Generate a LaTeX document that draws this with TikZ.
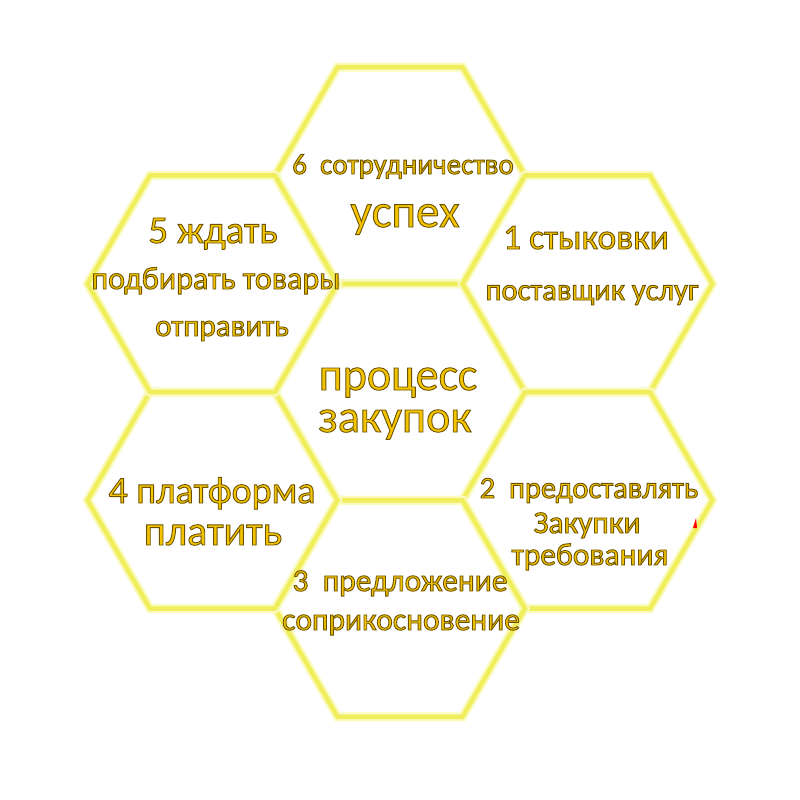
\documentclass[tikz,border=0pt]{standalone}
\usepackage{fontspec}
\setmainfont{Carlito}
\usepackage{tikz}
\usetikzlibrary{shapes.geometric}
\definecolor{hexline}{RGB}{240,238,90}
\definecolor{hexglow}{RGB}{250,250,190}
\definecolor{gold}{RGB}{244,196,0}
% golden letters with a thin dark rim
\newcommand{\gtxt}[1]{\special{pdf:literal direct 2 Tr 0.9 w 0.42 0.32 0 RG}#1\special{pdf:literal direct 0 Tr}}

\begin{document}
\begin{tikzpicture}[x=1pt,y=-1pt,
    hexcell/.style={
      regular polygon,
      regular polygon sides=6,
      minimum size=250pt,
      inner sep=0pt,
      draw=hexline,
      line width=4.5pt,
      preaction={draw=hexglow,line width=9pt}
    },
    txt/.style={
      font=\fontsize{#1}{#1}\selectfont,
      text=gold,
      anchor=base,
      inner sep=0pt
    }
  ]
  \useasboundingbox (0,0) rectangle (800,800);
  % honeycomb
  \node[hexcell] (center) at (400,392) {};
  \node[hexcell] (h6) at (400,175.5) {};
  \node[hexcell] (h1) at (587.5,283.75) {};
  \node[hexcell] (h2) at (587.5,500.25) {};
  \node[hexcell] (h3) at (400,608.5) {};
  \node[hexcell] (h4) at (212.5,500.25) {};
  \node[hexcell] (h5) at (212.5,283.75) {};
  % texts
  \node[txt=46] (tc1) at (398,390) {\gtxt{процесс}};
  \node[txt=46] (tc2) at (395,432) {\gtxt{закупок}};
  \node[txt=29] (t6a) at (403,174) {\gtxt{6~~сотрудничество}};
  \node[txt=47] (t6b) at (405,227) {\gtxt{успех}};
  \node[txt=35.5] (t1a) at (586,249) {\gtxt{1 стыковки}};
  \node[txt=30.5] (t1b) at (592,300) {\gtxt{поставщик услуг}};
  \node[txt=30.5] (t2a) at (589,498) {\gtxt{2~~предоставлять}};
  \node[txt=31.5] (t2b) at (587,533) {\gtxt{Закупки}};
  \node[txt=31.5] (t2c) at (590,565) {\gtxt{требования}};
  \node[txt=31.5] (t3a) at (400,591) {\gtxt{3~~предложение}};
  \node[txt=31.5] (t3b) at (401,630) {\gtxt{соприкосновение}};
  \node[txt=38] (t4a) at (212,503) {\gtxt{4 платформа}};
  \node[txt=42] (t4b) at (213,545) {\gtxt{платить}};
  \node[txt=39] (t5a) at (213,243) {\gtxt{5 ждать}};
  \node[txt=32] (t5b) at (216,289) {\gtxt{подбирать товары}};
  \node[txt=31] (t5c) at (222,336) {\gtxt{отправить}};
  % small red mark
  \fill[red] (693,528) -- (697,528) -- (696,518) -- cycle;
\end{tikzpicture}
\end{document}
